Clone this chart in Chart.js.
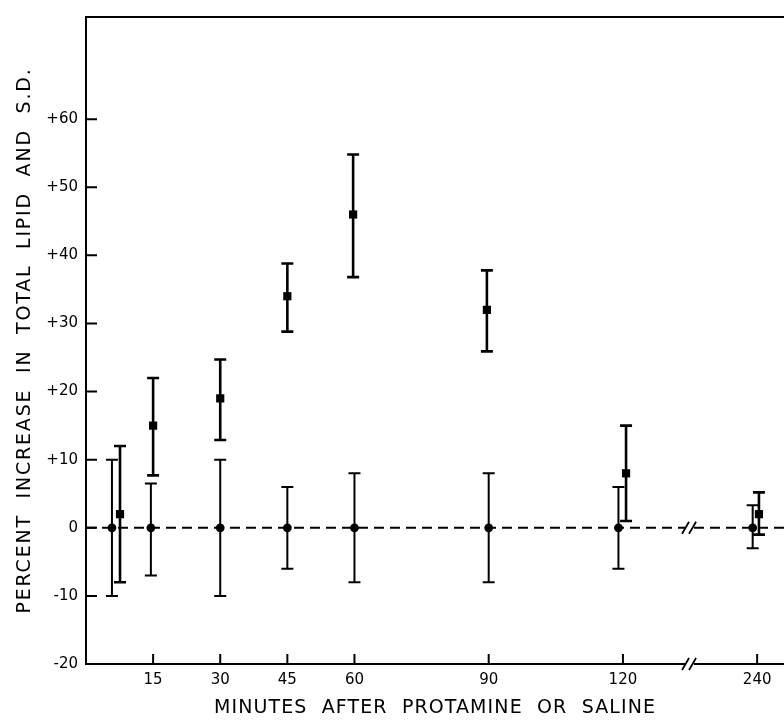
<!DOCTYPE html>
<html>
<head>
<meta charset="utf-8">
<script src="https://cdn.jsdelivr.net/npm/chart.js@4.4.1/dist/chart.umd.min.js"></script>
<style>
  html, body { margin: 0; padding: 0; background: #fff; }
  #wrap { width: 784px; height: 723px; }
</style>
</head>
<body>
<div id="wrap"><canvas id="chart" width="784" height="723"></canvas></div>
<script>
// minutes after injection (small offsets keep the two groups apart, as in the figure)
var salineMinutes = [5.8, 14.5, 30, 45, 60, 90, 119, 239]
var salineMean = [0, 0, 0, 0, 0, 0, 0, 0]
var salineHigh = [10, 6.5, 10, 6, 8, 8, 6, 3.3]
var salineLow = [-10, -7, -10, -6, -8, -8, -6, -3]

var protMinutes = [7.6, 15, 30, 45, 59.7, 89.6, 120.7, 240.4]
var protMean = [2, 15, 19, 34, 46, 32, 8, 2]
var protHigh = [12, 22, 24.7, 38.8, 54.8, 37.8, 15, 5.2]
var protLow = [-8, 7.7, 12.9, 28.8, 36.8, 25.9, 1, -1]

var xTickMinutes = [15, 30, 45, 60, 90, 120, 240]
var yTicks = [-20, -10, 0, 10, 20, 30, 40, 50, 60]

// axis is broken between 120 and 240 min
var breakAt = 135
var breakSkip = 90
function axisPos(m) {
    return m > breakAt + breakSkip ? m - breakSkip : m
}

function toPoints(mins, vals) {
    return mins.map(function (m, i) { return { x: axisPos(m), y: vals[i] } })
}

var xMax = 156

var lineW = 2

var errorBars = {
    id: 'errorBars',
    beforeDatasetsDraw: function (chart) {
        var ctx = chart.ctx
        var xs = chart.scales.x, ys = chart.scales.y
        function bars(mins, hi, lo, w) {
            ctx.lineWidth = w
            mins.forEach(function (m, i) {
                var px = xs.getPixelForValue(axisPos(m))
                var top = ys.getPixelForValue(hi[i])
                var bot = ys.getPixelForValue(lo[i])
                ctx.beginPath()
                ctx.moveTo(px, top); ctx.lineTo(px, bot)
                ctx.moveTo(px - 6, top); ctx.lineTo(px + 6, top)
                ctx.moveTo(px - 6, bot); ctx.lineTo(px + 6, bot)
                ctx.stroke()
            })
        }
        ctx.save()
        ctx.strokeStyle = '#000'
        bars(salineMinutes, salineHigh, salineLow, 2)
        bars(protMinutes, protHigh, protLow, 2.6)
        ctx.restore()
    },
    afterDraw: function (chart) {
        var ctx = chart.ctx
        var a = chart.chartArea
        var xs = chart.scales.x, ys = chart.scales.y
        ctx.save()
        ctx.strokeStyle = '#000'
        ctx.lineWidth = lineW
        // top frame line
        ctx.beginPath()
        ctx.moveTo(a.left - 1, a.top); ctx.lineTo(a.right, a.top)
        ctx.stroke()
        // inward ticks
        ctx.beginPath()
        yTicks.forEach(function (v) {
            var py = ys.getPixelForValue(v)
            ctx.moveTo(a.left, py); ctx.lineTo(a.left + 11, py)
        })
        xTickMinutes.forEach(function (m) {
            var px = xs.getPixelForValue(axisPos(m))
            ctx.moveTo(px, a.bottom); ctx.lineTo(px, a.bottom - 10)
        })
        ctx.stroke()
        // break marks on zero line and on x axis
        var bx = xs.getPixelForValue(breakAt)
        ;[ys.getPixelForValue(0), a.bottom].forEach(function (py) {
            ctx.fillStyle = '#fff'
            ctx.fillRect(bx - 4, py - 3, 8, 6)
            ctx.beginPath()
            ctx.moveTo(bx - 8, py + 6); ctx.lineTo(bx - 1, py - 6)
            ctx.moveTo(bx - 1, py + 6); ctx.lineTo(bx + 6, py - 6)
            ctx.lineWidth = 1.8
            ctx.stroke()
        })
        ctx.restore()
    }
}

// wider letter spacing for the two axis titles only
var titleSpacing = { x: '1.1px', y: '1.8px' }
var spacedTitles = {
    id: 'spacedTitles',
    beforeDraw: function (chart) {
        ['x', 'y'].forEach(function (id) {
            var s = chart.scales[id]
            if (s._spaced) return
            var orig = s.drawTitle
            s.drawTitle = function () {
                this.ctx.letterSpacing = titleSpacing[id]
                orig.apply(this, arguments)
                this.ctx.letterSpacing = '0px'
            }
            s._spaced = true
        })
    }
}

var ctx = document.getElementById('chart').getContext('2d')
var chart = new Chart(ctx, {
    type: 'scatter',
    data: {
        datasets: [
            {
                label: 'Saline',
                data: toPoints(salineMinutes, salineMean),
                pointStyle: 'circle',
                pointRadius: 4.4,
                backgroundColor: '#000',
                borderColor: '#000',
                borderWidth: 0,
                order: 1
            },
            {
                label: 'Protamine',
                data: toPoints(protMinutes, protMean),
                pointStyle: 'rect',
                pointRadius: 5.8,
                backgroundColor: '#000',
                borderColor: '#000',
                borderWidth: 0,
                order: 0
            },
            {
                label: 'zero',
                type: 'line',
                data: [{ x: 0, y: 0 }, { x: xMax, y: 0 }],
                borderColor: '#000',
                borderWidth: 2,
                borderDash: [10, 6],
                pointRadius: 0,
                order: 5
            }
        ]
    },
    options: {
        responsive: false,
        animation: false,
        layout: { autoPadding: false, padding: { top: 12, left: 0, right: 0, bottom: 0 } },
        plugins: {
            legend: { display: false },
            tooltip: { enabled: false }
        },
        scales: {
            x: {
                type: 'linear',
                min: 0,
                max: xMax,
                afterFit: function (s) { s.height = 59 },
                afterBuildTicks: function (s) {
                    s.ticks = xTickMinutes.map(function (m) { return { value: axisPos(m) } })
                },
                grid: { display: false, drawTicks: false },
                border: { display: true, color: '#000', width: lineW },
                ticks: {
                    padding: 7,
                    color: '#000',
                    maxRotation: 0,
                    autoSkip: false,
                    font: { family: 'DejaVu Sans', size: 15 },
                    callback: function (v) {
                        var i = xTickMinutes.map(axisPos).indexOf(v)
                        return i < 0 ? '' : String(xTickMinutes[i])
                    }
                },
                title: {
                    display: true,
                    text: 'MINUTES  AFTER  PROTAMINE  OR  SALINE',
                    color: '#000',
                    font: { family: 'DejaVu Sans', size: 19 },
                    padding: { top: 0, bottom: 4 }
                }
            },
            y: {
                min: -20,
                max: 75,
                afterFit: function (s) { s.width = 86 },
                afterBuildTicks: function (s) {
                    s.ticks = yTicks.map(function (v) { return { value: v } })
                },
                grid: { display: false, drawTicks: false },
                border: { display: true, color: '#000', width: lineW },
                ticks: {
                    padding: 8,
                    color: '#000',
                    font: { family: 'DejaVu Sans', size: 15 },
                    callback: function (v) { return v > 0 ? '+' + v : String(v) }
                },
                title: {
                    display: true,
                    text: 'PERCENT  INCREASE  IN  TOTAL  LIPID  AND  S.D.',
                    color: '#000',
                    font: { family: 'DejaVu Sans', size: 19 },
                    padding: { top: 14, bottom: 0 }
                }
            }
        }
    },
    plugins: [errorBars, spacedTitles]
})
</script>
</body>
</html>
